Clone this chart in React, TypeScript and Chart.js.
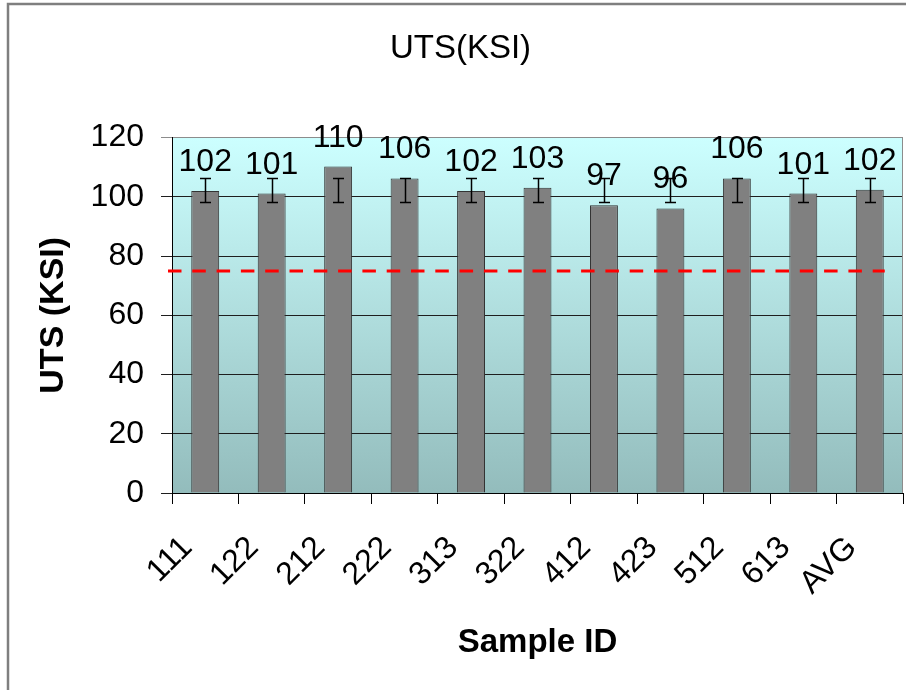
import React, { useEffect, useRef } from 'react';
import { Chart, registerables } from 'chart.js';

Chart.register(...registerables);

const FONT = '"Liberation Sans", Arial, Helvetica, sans-serif';

const categories = ['111', '122', '212', '222', '313', '322', '412', '423', '512', '613', 'AVG'];
const utsValues = [102.0, 101.1, 110.2, 106.2, 102.0, 103.1, 97.2, 96.1, 106.2, 101.1, 102.4];
const valueLabels = ['102', '101', '110', '106', '102', '103', '97', '96', '106', '101', '102'];
const errorLow = [98.2, 98.2, 98.2, 98.2, 98.2, 98.2, 98.2, 98.2, 98.2, 98.2, 98.2];
const errorHigh = [106.5, 106.5, 106.5, 106.5, 106.5, 106.5, 106.5, 106.5, 106.5, 106.5, 106.5];
const specLimit = 75;
const yMin = 0;
const yMax = 120;
const yStep = 20;

const decorPlugin = {
  id: 'decor',
  beforeDraw(chart: any) {
    const { ctx, chartArea: a } = chart;
    const g = ctx.createLinearGradient(0, a.top, 0, a.bottom);
    g.addColorStop(0, '#CCFFFF');
    g.addColorStop(1, '#93BCBC');
    ctx.save();
    ctx.fillStyle = g;
    ctx.fillRect(a.left, a.top, a.right - a.left, a.bottom - a.top);
    ctx.restore();
  },
  afterDatasetsDraw(chart: any) {
    const { ctx, chartArea: a } = chart;
    const meta = chart.getDatasetMeta(0);
    const ys = chart.scales.y;
    const xs = chart.scales.x;
    ctx.save();
    // error bars
    ctx.strokeStyle = '#000';
    ctx.lineWidth = 1.5;
    meta.data.forEach((bar: any, i: number) => {
      const x = Math.round(bar.x) + 0.5;
      const yh = Math.round(ys.getPixelForValue(errorHigh[i])) + 0.5;
      const yl = Math.round(ys.getPixelForValue(errorLow[i])) + 0.5;
      ctx.beginPath();
      ctx.moveTo(x, yh);
      ctx.lineTo(x, yl);
      ctx.moveTo(x - 5.5, yh);
      ctx.lineTo(x + 5.5, yh);
      ctx.moveTo(x - 5.5, yl);
      ctx.lineTo(x + 5.5, yl);
      ctx.stroke();
    });
    // spec limit dashed line
    const yLine = ys.getPixelForValue(specLimit);
    const lastX = xs.getPixelForValue(categories.length - 1);
    ctx.strokeStyle = '#FF0000';
    ctx.lineWidth = 3;
    ctx.setLineDash([13.5, 10.8]);
    ctx.beginPath();
    ctx.moveTo(a.left - 4, yLine);
    ctx.lineTo(lastX + 15, yLine);
    ctx.stroke();
    ctx.setLineDash([]);
    // value labels
    ctx.fillStyle = '#000';
    ctx.font = '32px ' + FONT;
    ctx.textAlign = 'center';
    ctx.textBaseline = 'alphabetic';
    meta.data.forEach((bar: any, i: number) => {
      ctx.fillText(valueLabels[i], bar.x, bar.y - 20);
    });
    ctx.restore();
  },
  afterDraw(chart: any) {
    const { ctx, chartArea: a } = chart;
    ctx.save();
    ctx.strokeStyle = '#8C8C8C';
    ctx.lineWidth = 1;
    ctx.beginPath();
    ctx.moveTo(Math.round(a.right) - 0.5, a.top);
    ctx.lineTo(Math.round(a.right) - 0.5, a.bottom);
    ctx.stroke();
    ctx.strokeStyle = '#7F7F7F';
    ctx.lineWidth = 2.5;
    ctx.strokeRect(8, 4, 2000, 2000);
    ctx.restore();
  },
};

export default function App() {
  const ref = useRef<HTMLCanvasElement | null>(null);

  useEffect(() => {
    document.body.style.margin = '0';
    const canvas = ref.current;
    if (!canvas) return;
    Chart.defaults.font.family = FONT;
    Chart.defaults.color = '#000';
    const chart = new Chart(canvas, {
      type: 'bar',
      data: {
        labels: categories,
        datasets: [
          {
            label: 'UTS (KSI)',
            data: utsValues,
            backgroundColor: '#808080',
            borderColor: '#333333',
            borderWidth: 1,
            categoryPercentage: 1,
            barPercentage: 0.42,
          },
        ],
      },
      options: {
        responsive: false,
        animation: false,
        devicePixelRatio: 1,
        layout: { padding: { left: 18, right: 3, top: 0, bottom: 0 } },
        plugins: {
          legend: { display: false },
          tooltip: { enabled: false },
          title: {
            display: true,
            text: 'UTS(KSI)',
            color: '#000',
            font: { size: 33, weight: 'normal', family: FONT },
            padding: { top: 29, bottom: 69 },
          },
        },
        scales: {
          x: {
            afterFit(scale: any) {
              scale.height = 197;
              scale.paddingLeft = 0;
              scale.paddingRight = 0;
            },
            grid: {
              offset: true,
              drawOnChartArea: false,
              drawTicks: true,
              tickLength: 11,
              color: '#000',
              lineWidth: 1,
            },
            border: { display: true, color: '#000', width: 1 },
            ticks: {
              autoSkip: false,
              minRotation: 45,
              maxRotation: 45,
              padding: 25,
              labelOffset: -18,
              color: '#000',
              font: { size: 32, family: FONT },
            },
            title: {
              display: true,
              text: 'Sample ID',
              color: '#000',
              font: { size: 33, weight: 'bold', family: FONT },
              padding: { top: 0, bottom: 27 },
            },
          },
          y: {
            min: yMin,
            max: yMax,
            afterFit(scale: any) {
              scale.width = 154;
            },
            grid: {
              drawOnChartArea: true,
              drawTicks: true,
              tickLength: 11,
              color: (c: any) => (c.tick && c.tick.value === yMax ? '#8C8C8C' : '#1E1E1E'),
              lineWidth: 1,
            },
            border: { display: true, color: '#000', width: 1 },
            ticks: {
              stepSize: yStep,
              padding: 17,
              color: '#000',
              font: { size: 32, family: FONT },
            },
            title: {
              display: true,
              text: 'UTS (KSI)',
              color: '#000',
              font: { size: 34, weight: 'bold', family: FONT },
              padding: { top: 15, bottom: 0 },
            },
          },
        },
      },
      plugins: [decorPlugin],
    } as any);
    return () => chart.destroy();
  }, []);

  return (
    <div style={{ position: 'absolute', left: 0, top: 0, width: 906, height: 690, background: '#fff' }}>
      <canvas ref={ref} width={906} height={690} style={{ display: 'block' }} />
    </div>
  );
}
